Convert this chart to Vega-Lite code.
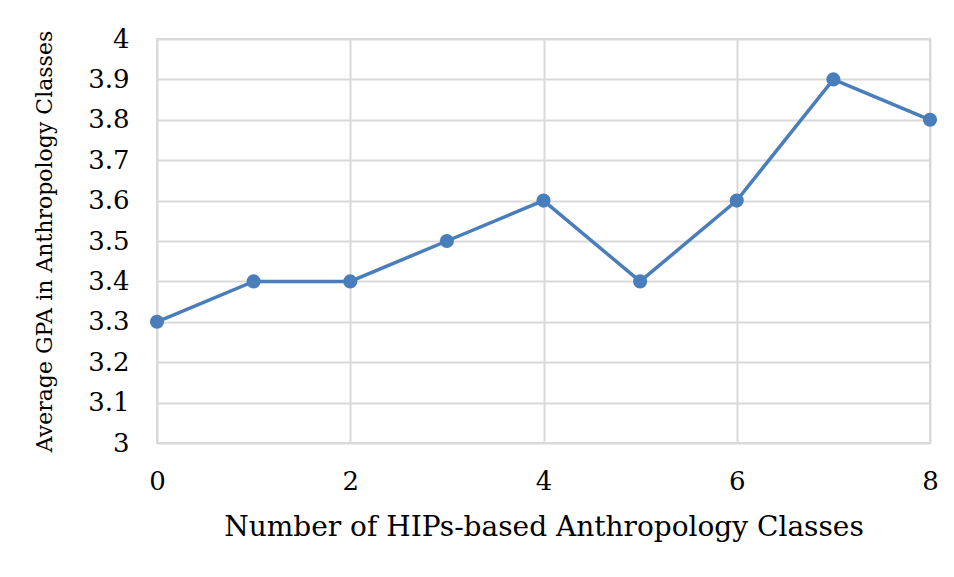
{
  "$schema": "https://vega.github.io/schema/vega-lite/v6.json",
  "width": 773,
  "height": 404,
  "autosize": {"type": "none"},
  "padding": {"left": 157, "top": 39, "right": 24, "bottom": 134},
  "background": "white",
  "config": {
    "view": {"stroke": "#d9d9d9", "strokeWidth": 2},
    "font": "DejaVu Serif"
  },
  "data": {
    "values": [
      {"hips": 0, "gpa": 3.3},
      {"hips": 1, "gpa": 3.4},
      {"hips": 2, "gpa": 3.4},
      {"hips": 3, "gpa": 3.5},
      {"hips": 4, "gpa": 3.6},
      {"hips": 5, "gpa": 3.4},
      {"hips": 6, "gpa": 3.6},
      {"hips": 7, "gpa": 3.9},
      {"hips": 8, "gpa": 3.8}
    ]
  },
  "mark": {"type": "line", "color": "#4a7ebb", "strokeWidth": 3.5, "point": {"filled": true, "size": 200, "color": "#4a7ebb", "opacity": 1}},
  "encoding": {
    "x": {
      "field": "hips", "type": "quantitative",
      "scale": {"domain": [0, 8], "nice": false, "zero": false},
      "axis": {
        "title": "Number of HIPs-based Anthropology Classes",
        "values": [0, 2, 4, 6, 8],
        "grid": true, "gridColor": "#d9d9d9", "gridWidth": 2,
        "domain": false, "ticks": false,
        "labelFont": "DejaVu Serif", "labelFontSize": 26, "labelColor": "#000000", "labelPadding": 25,
        "labelFlush": false,
        "titleFont": "DejaVu Serif", "titleFontSize": 28, "titleFontWeight": "normal", "titleColor": "#000000", "titlePadding": 19
      }
    },
    "y": {
      "field": "gpa", "type": "quantitative",
      "scale": {"domain": [3, 4], "nice": false, "zero": false},
      "axis": {
        "title": "Average GPA in Anthropology Classes",
        "values": [3, 3.1, 3.2, 3.3, 3.4, 3.5, 3.6, 3.7, 3.8, 3.9, 4],
        "format": ".1~f",
        "grid": true, "gridColor": "#d9d9d9", "gridWidth": 2,
        "domain": false, "ticks": false,
        "labelFont": "DejaVu Serif", "labelFontSize": 26, "labelColor": "#000000", "labelPadding": 28,
        "labelFlush": false,
        "titleFont": "DejaVu Serif", "titleFontSize": 22, "titleFontWeight": "normal", "titleColor": "#000000", "titlePadding": 31
      }
    }
  }
}
